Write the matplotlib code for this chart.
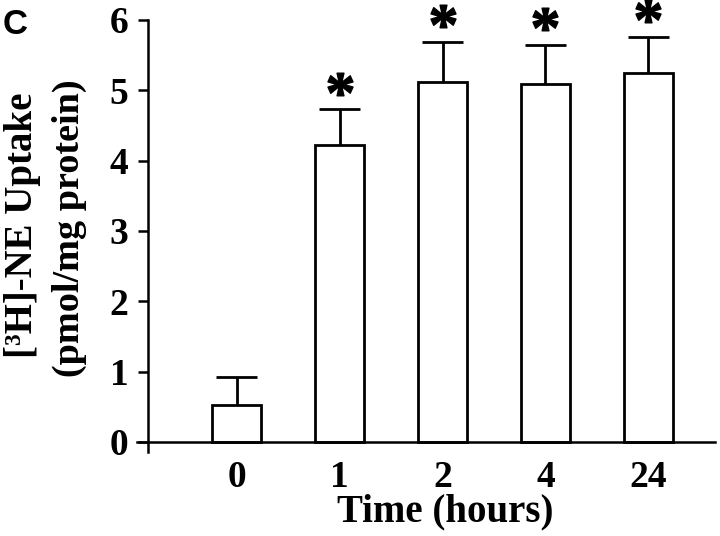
import numpy as np
import matplotlib.pyplot as plt
from matplotlib.transforms import offset_copy

# Data
times = ["0", "1", "2", "4", "24"]
uptake = [0.53, 4.22, 5.12, 5.09, 5.24]
sem = [0.40, 0.51, 0.57, 0.56, 0.52]
signif = [False, True, True, True, True]

plt.rcParams['font.family'] = ['Liberation Serif', 'DejaVu Serif']
plt.rcParams['font.weight'] = 'bold'
plt.rcParams['mathtext.fontset'] = 'custom'
plt.rcParams['mathtext.rm'] = 'Liberation Serif'
plt.rcParams['mathtext.bf'] = 'Liberation Serif:bold'

fig = plt.figure(figsize=(7.2, 5.36), dpi=100)
ax = fig.add_axes([0.1903, 0.1558, 0.8028, 0.8069])

x = np.arange(len(times))
ax.bar(x, uptake, width=0.47, color='white', edgecolor='black', linewidth=2.0, zorder=2)

# upward-only error bars
top = np.array(uptake) + np.array(sem)
ax.vlines(x, uptake, top, color='black', linewidth=2.0, zorder=1)
ax.hlines(top, x - 0.2, x + 0.2, color='black', linewidth=2.0, zorder=1)

# significance asterisks just above the caps
star_tr = offset_copy(ax.transData, fig=fig, y=18.5, units='points')
sig = np.array(signif)
ax.plot(x[sig], top[sig], linestyle='none', marker=r'$\mathbf{*}$',
        markersize=18, color='black', transform=star_tr, clip_on=False)

ax.set_xlim(-0.966, 4.646)
ax.set_ylim(-0.15, 6)
ax.spines['top'].set_visible(False)
ax.spines['right'].set_visible(False)
ax.spines['left'].set_position(('data', -0.86))
ax.spines['bottom'].set_position(('data', 0))
ax.spines['left'].set_linewidth(1.8)
ax.spines['bottom'].set_linewidth(1.8)

ax.set_yticks(range(0, 7))
ax.tick_params(axis='y', length=7, width=1.8, pad=7, labelsize=27)
ax.set_xticks(x)
ax.set_xticklabels(times)
ax.tick_params(axis='x', length=0, pad=13, labelsize=27)

ax.set_xlabel("Time (hours)", fontsize=28, fontweight='bold')
ax.xaxis.set_label_coords(0.533, -0.095)
fig.text(0.031, 0.58, "[³H]-NE Uptake", rotation=90, ha='center', va='center',
         fontsize=28, fontweight='bold')
fig.text(0.097, 0.575, "(pmol/mg protein)", rotation=90, ha='center', va='center',
         fontsize=27.5, fontweight='bold')
fig.text(0.004, 0.985, "C", ha='left', va='top', fontsize=25, fontweight='bold',
         family=['Liberation Sans', 'DejaVu Sans'])

fig.savefig("out.png", dpi=100)
